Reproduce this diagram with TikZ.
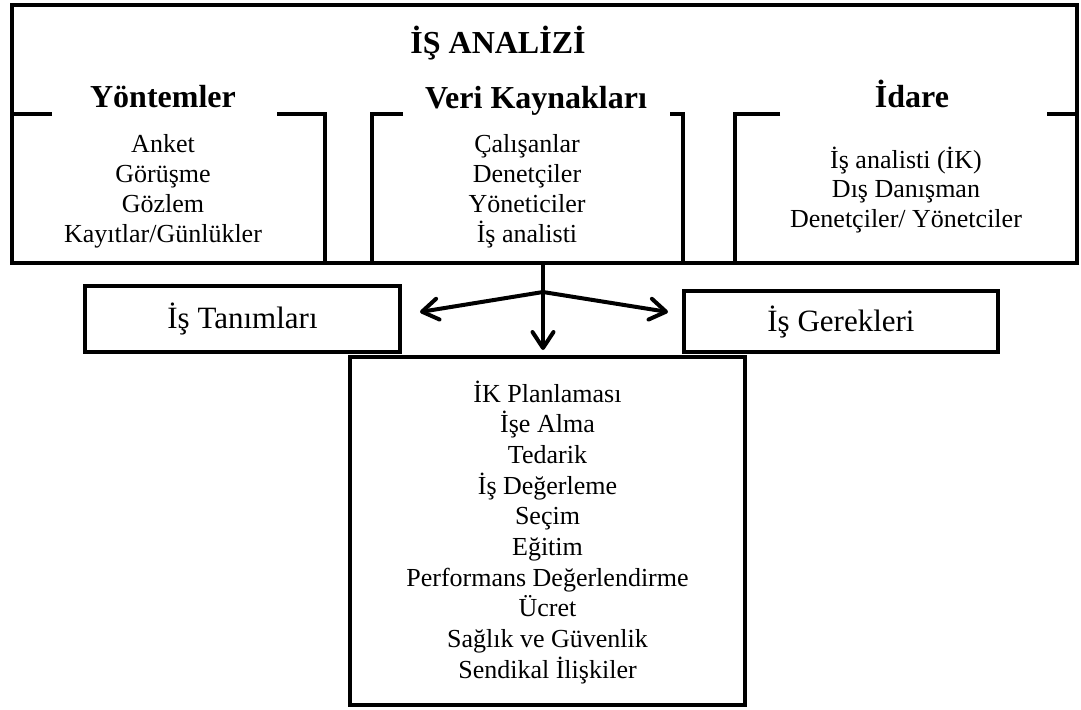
\documentclass[tikz,border=0pt]{standalone}
\usepackage{fontspec}
\setmainfont{Liberation Serif}
\usetikzlibrary{arrows.meta,calc}
\begin{document}
\begin{tikzpicture}[x=0.5pt,y=-0.5pt,
  frame/.style={line width=2pt, line join=miter},
  head/.style={font=\fontsize{16}{19}\selectfont\bfseries, inner sep=0pt, anchor=base},
  item/.style={font=\fontsize{13}{15}\selectfont, inner sep=0pt, anchor=base},
  lbl/.style={draw, line width=2pt, font=\fontsize{15.5}{18}\selectfont, inner sep=0pt},
  arr/.style={line width=2pt, line cap=round, -{Straight Barb[length=8pt,width=10.5pt,round]}}]
\useasboundingbox (0,0) rectangle (1081,709);

% outer frame
\node[frame, draw, inner sep=0pt, minimum width=532.5pt, minimum height=129pt] (analiz) at (544.5,134) {};
\node[head] (title) at (498,53) {İŞ ANALİZİ};

% sub-frames
\draw[frame] (52,114) -- (12,114);
\draw[frame] (277,114) -- (325,114) -- (325,263);
\draw[frame] (403,114) -- (372,114) -- (372,263);
\draw[frame] (670,114) -- (683,114) -- (683,263);
\draw[frame] (780,114) -- (735,114) -- (735,263);
\draw[frame] (1047,114) -- (1077,114);

\node[head] (yontem) at (163,107) {Yöntemler};
\node[head] (veri) at (536,108) {Veri Kaynakları};
\node[head] (idare) at (912,107) {İdare};

\foreach \txt [count=\i] in {{Anket},{Görüşme},{Gözlem},{Kayıtlar/Günlükler}}
  \node[item] (m\i) at (163,{152+30*(\i-1)}) {\txt};
\foreach \txt [count=\i] in {{Çalışanlar},{Denetçiler},{Yöneticiler},{İş analisti}}
  \node[item] (v\i) at (527,{152+30*(\i-1)}) {\txt};
\foreach \txt [count=\i] in {{İş analisti (İK)},{Dış Danışman},{Denetçiler/ Yönetciler}}
  \node[item] (d\i) at (906,{168+29.5*(\i-1)}) {\txt};

% result boxes
\node[lbl, minimum width=157.5pt, minimum height=33pt] (tanim) at (242.5,319) {İş Tanımları};
\node[lbl, minimum width=157pt, minimum height=30.5pt] (gerek) at (841,321.5) {İş Gerekleri};
\node[frame, draw, inner sep=0pt, minimum width=197.5pt, minimum height=174pt] (alan) at (547.5,531) {};
\foreach \txt [count=\i] in {{İK Planlaması},{İşe Alma},{Tedarik},{İş Değerleme},{Seçim},{Eğitim},{Performans Değerlendirme},{Ücret},{Sağlık ve Güvenlik},{Sendikal İlişkiler}}
  \node[item] (a\i) at (547.5,{402+30.7*(\i-1)}) {\txt};

% connectors
\coordinate (split) at (543,292);
\draw[frame] (analiz.south -| split) -- (split);
\draw[arr] (split) -- ($(tanim.east)+(18,-7)$);
\draw[arr] (split) -- ($(gerek.west)+(-14,-9.5)$);
\draw[arr] (split) -- ($(alan.north -| split)+(0,-5)$);
\end{tikzpicture}
\end{document}
